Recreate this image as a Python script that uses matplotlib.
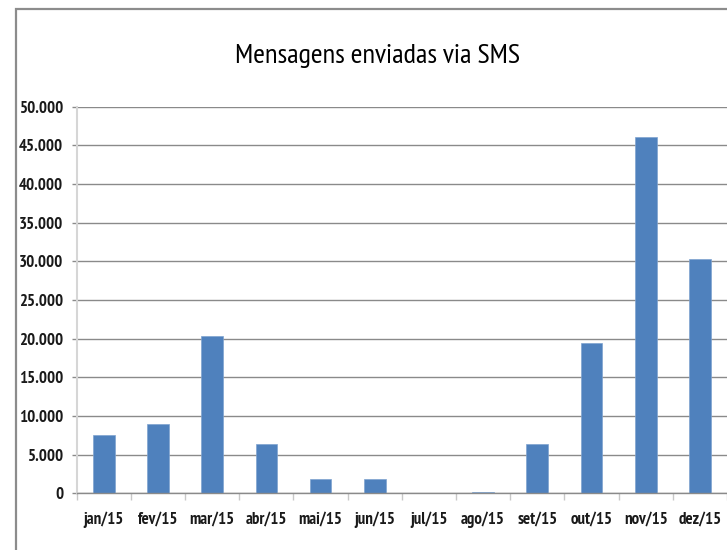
import matplotlib
matplotlib.use("Agg")
from matplotlib import pyplot as plt
from matplotlib.patches import Rectangle
from matplotlib.ticker import FuncFormatter

months = ["jan/15", "fev/15", "mar/15", "abr/15", "mai/15", "jun/15",
          "jul/15", "ago/15", "set/15", "out/15", "nov/15", "dez/15"]
messages = [7500, 8900, 20300, 6350, 1900, 1800, 0, 200, 6350, 19500, 46050, 30300]
y_ticks = [0, 5000, 10000, 15000, 20000, 25000, 30000, 35000, 40000, 45000, 50000]

font = ["PT Sans Narrow", "DejaVu Sans"]

fig = plt.figure(figsize=(7.27, 5.5), dpi=100)
fig.patch.set_facecolor("white")

# chart frame (cut at right / bottom, like the screenshot)
frame = Rectangle((15.8 / 727, -0.05), 1.0, (550 - 9.2) / 550 + 0.05,
                  transform=fig.transFigure, fill=False,
                  edgecolor="#8c8c8c", linewidth=1.6)
fig.patches.append(frame)

ax = fig.add_axes([76.7 / 727, 56.7 / 550, 1 - 76.7 / 727, (493.3 - 106.7) / 550])

x = list(range(len(months)))
ax.bar(x, messages, width=0.4, color="#4f81bd", edgecolor="#7fa3d0", linewidth=0.5, zorder=3)

ax.set_xlim(-0.5, 11.5)
ax.set_ylim(0, 50000)
ax.set_yticks(y_ticks)
ax.yaxis.set_major_formatter(FuncFormatter(lambda v, p: f"{int(v):,}".replace(",", ".")))
ax.set_xticks(x)
ax.set_xticklabels(months)
ax.set_xticks([i - 0.5 for i in range(13)], minor=True)

ax.grid(axis="y", color="#8a8a8a", linewidth=1.0, zorder=0)
ax.set_axisbelow(True)

for s in ["top", "right"]:
    ax.spines[s].set_visible(False)
ax.spines["left"].set_color("#d6d6d6")
ax.spines["left"].set_linewidth(1.5)
ax.spines["bottom"].set_color("#8a8a8a")
ax.spines["bottom"].set_linewidth(1.0)
ax.spines["bottom"].set_zorder(4)

ax.tick_params(axis="y", length=3.6, width=1.0, color="#8a8a8a", pad=6)
ax.tick_params(axis="x", which="major", length=0, pad=13)
ax.tick_params(axis="x", which="minor", length=5, width=1.0, color="#c8c8c8")

for lbl in ax.get_yticklabels() + ax.get_xticklabels():
    lbl.set_fontfamily(font)
    lbl.set_fontweight("bold")
    lbl.set_fontsize(12.2)
    lbl.set_color("#1a1a1a")

fig.text(377.5 / 727, 1 - 63.3 / 550, "Mensagens enviadas via SMS", ha="center", va="baseline",
         fontsize=20.5, family=font, color="black")

fig.savefig("out.png", dpi=100)
